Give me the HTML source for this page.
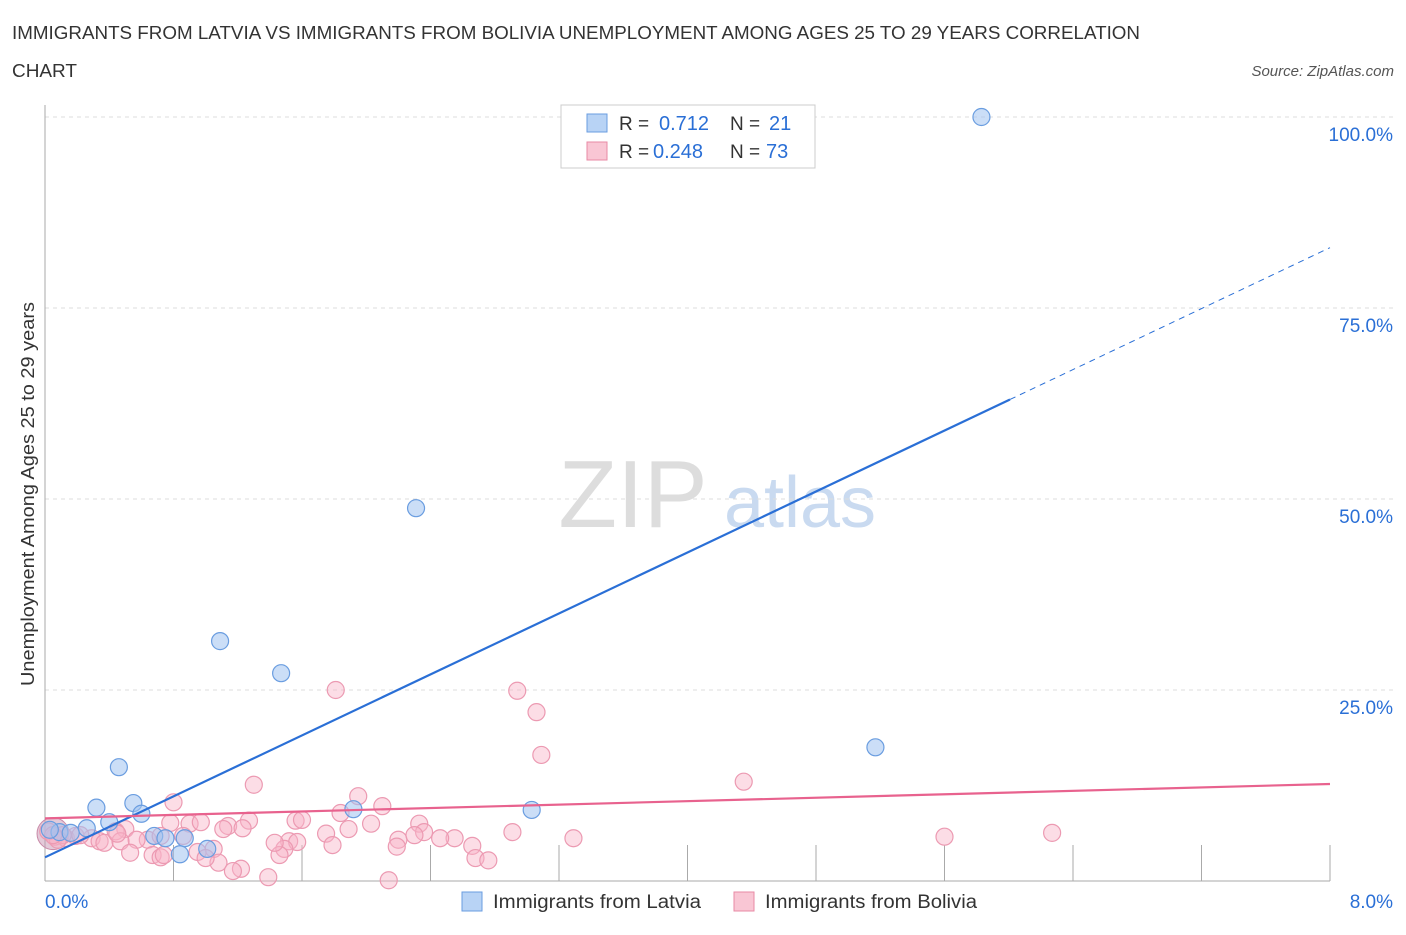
<!DOCTYPE html>
<html><head><meta charset="utf-8"><style>
body{margin:0;background:#fff;font-family:"Liberation Sans",sans-serif}
svg text{font-family:"Liberation Sans",sans-serif}
</style></head><body>
<svg width="1406" height="930" id="chart">
<text x="12" y="39" font-size="18" fill="#333" textLength="1128" lengthAdjust="spacingAndGlyphs">IMMIGRANTS FROM LATVIA VS IMMIGRANTS FROM BOLIVIA UNEMPLOYMENT AMONG AGES 25 TO 29 YEARS CORRELATION</text>
<text x="12" y="77" font-size="18" fill="#333" textLength="65" lengthAdjust="spacingAndGlyphs">CHART</text>
<text x="1394" y="76" font-size="15" fill="#555" font-style="italic" text-anchor="end">Source: ZipAtlas.com</text>
<text x="633" y="527" font-size="96" fill="#ddd" font-family="Liberation Serif" text-anchor="middle">ZIP</text>
<text x="800" y="527" font-size="72" fill="#c9daf0" text-anchor="middle">atlas</text>
<text transform="translate(34,494) rotate(-90)" font-size="18" fill="#333" text-anchor="middle" textLength="384" lengthAdjust="spacingAndGlyphs">Unemployment Among Ages 25 to 29 years</text>
<g id="grid"></g><g id="marks"></g>
<g>
<rect x="561" y="105" width="254" height="63" fill="#fff" stroke="#ccc"/>
<rect x="587" y="114" width="20" height="18" fill="#b8d3f5" stroke="#6a9de0"/>
<rect x="587" y="142" width="20" height="18" fill="#f9c6d4" stroke="#e88aa5"/>
<text x="619" y="130" font-size="19" fill="#333">R = </text><text x="659" y="130" font-size="20" fill="#2a6fd6">0.712</text>
<text x="730" y="130" font-size="19" fill="#333">N = </text><text x="769" y="130" font-size="20" fill="#2a6fd6">21</text>
<text x="619" y="158" font-size="19" fill="#333">R = </text><text x="653" y="158" font-size="20" fill="#2a6fd6">0.248</text>
<text x="730" y="158" font-size="19" fill="#333">N = </text><text x="766" y="158" font-size="20" fill="#2a6fd6">73</text>
</g>
<g>
<rect x="462" y="892" width="20" height="19" fill="#b8d3f5" stroke="#6a9de0"/>
<text x="493" y="908" font-size="19" fill="#333" textLength="208" lengthAdjust="spacingAndGlyphs">Immigrants from Latvia</text>
<rect x="734" y="892" width="20" height="19" fill="#f9c6d4" stroke="#e88aa5"/>
<text x="765" y="908" font-size="19" fill="#333" textLength="212" lengthAdjust="spacingAndGlyphs">Immigrants from Bolivia</text>
</g>
</svg>
<script>
const yTicks=[25,50,75,100];
const xTickLabels=["0.0%","8.0%"];
const latviaX=[5.83,2.31,1.09,1.47,5.17,0.46,0.55,0.32,0.60,1.92,3.03,0.40,0.26,0.09,0.68,0.87,0.84,1.01,0.75,0.16,0.03];
const latviaY=[100.0,48.8,31.4,27.2,17.5,14.9,10.2,9.6,8.8,9.4,9.3,7.7,6.9,6.4,5.9,5.6,3.5,4.2,5.6,6.3,6.7];
const boliviaX=[1.81,2.94,3.06,3.09,4.35,1.30,1.95,0.80,2.10,1.84,1.27,1.56,2.03,2.33,0.90,0.78,1.14,1.23,1.11,0.50,0.44,1.89,2.36,2.91,1.75,6.27,5.60,3.29,2.55,2.46,2.20,1.52,1.57,0.64,0.57,0.29,0.34,0.37,0.47,0.13,0.19,0.06,0.22,2.66,1.79,2.19,1.49,1.05,0.53,0.67,0.72,0.74,0.95,1.46,2.68,2.76,1.08,1.00,1.22,1.17,1.39,2.14,0.97,0.45,0.11,0.72,1.43,1.60,2.30,0.86,0.08,0.02,0.05];
const boliviaY=[25.0,24.9,22.1,16.5,13.0,12.6,11.1,10.3,9.8,8.9,7.9,7.9,7.5,7.5,7.5,7.6,7.2,6.9,6.8,6.8,6.5,6.8,6.4,6.4,6.2,6.3,5.8,5.6,5.6,5.6,5.4,5.2,5.1,5.4,5.4,5.6,5.2,5.0,5.2,5.6,5.9,5.8,6.0,4.6,4.7,4.5,4.2,4.2,3.7,3.4,3.1,3.4,3.8,3.4,3.0,2.7,2.4,3.0,1.6,1.3,0.5,0.1,7.7,6.2,6.0,5.9,5.0,8.0,6.0,5.9,5.4,6.5,6.0];
const latviaFit=[3.1,82.9];
const boliviaFit=[8.2,12.7];
const X0=45,X1=1330,Y0=881,Y100=117;
const sx=v=>X0+(X1-X0)*v/8;
const sy=v=>Y0-(Y0-Y100)*v/100;
const NS="http://www.w3.org/2000/svg";
function mk(t,a,p){const e=document.createElementNS(NS,t);for(const k in a)e.setAttribute(k,a[k]);p.appendChild(e);return e;}
const g=document.getElementById('grid'),m=document.getElementById('marks');
yTicks.forEach(t=>{const y=sy(t);
const l=mk('line',{x1:X0,x2:1395,y1:y,y2:y,stroke:'#ddd','stroke-dasharray':'4,4'},g);


const tx=mk('text',{x:1393,y:y+24,'font-size':19,fill:'#2a6fd6','text-anchor':'end'},g);tx.textContent=t.toFixed(1)+'%';

});
const ax=mk('line',{x1:X0,x2:X0,y1:105,y2:Y0,stroke:'#aaa'},g);


const bx=mk('line',{x1:X0,x2:X1,y1:Y0,y2:Y0,stroke:'#aaa'},g);


for(let i=1;i<=10;i++){const x=X0+(X1-X0)*i/10;const t=mk('line',{x1:x,x2:x,y1:Y0,y2:Y0-36,stroke:'#aaa'},g);

}
[[0,'start',45],[8,'end',1393]].forEach((d,i)=>{const t=mk('text',{x:d[2],y:908,'font-size':19,fill:'#2a6fd6','text-anchor':d[1]},g);t.textContent=xTickLabels[i];

});
const big=mk('circle',{cx:sx(0.05),cy:sy(6.2),r:16,fill:'rgba(200,150,180,0.5)',stroke:'#c98aa8'},m);


boliviaX.forEach((x,i)=>{const c=mk('circle',{cx:sx(x),cy:sy(boliviaY[i]),r:8.5,fill:'rgba(248,180,200,0.45)',stroke:'#ec9ab2','stroke-width':1.2},m);

});
latviaX.forEach((x,i)=>{const c=mk('circle',{cx:sx(x),cy:sy(latviaY[i]),r:8.5,fill:'rgba(160,195,240,0.55)',stroke:'#6a9de0','stroke-width':1.2},m);

});
const fy=(f,x)=>f[0]+(f[1]-f[0])*x/8;
const xe=(1010-X0)/(X1-X0)*8;
const l1=mk('line',{x1:sx(0),y1:sy(fy(latviaFit,0)),x2:sx(xe),y2:sy(fy(latviaFit,xe)),stroke:'#2a6fd6','stroke-width':2.2},m);


const l2=mk('line',{x1:sx(xe),y1:sy(fy(latviaFit,xe)),x2:sx(8),y2:sy(fy(latviaFit,8)),stroke:'#2a6fd6','stroke-width':1,'stroke-dasharray':'6,5'},m);


const l3=mk('line',{x1:sx(0),y1:sy(fy(boliviaFit,0)),x2:sx(8),y2:sy(fy(boliviaFit,8)),stroke:'#e8628e','stroke-width':2.2},m);


</script>
</body></html>
